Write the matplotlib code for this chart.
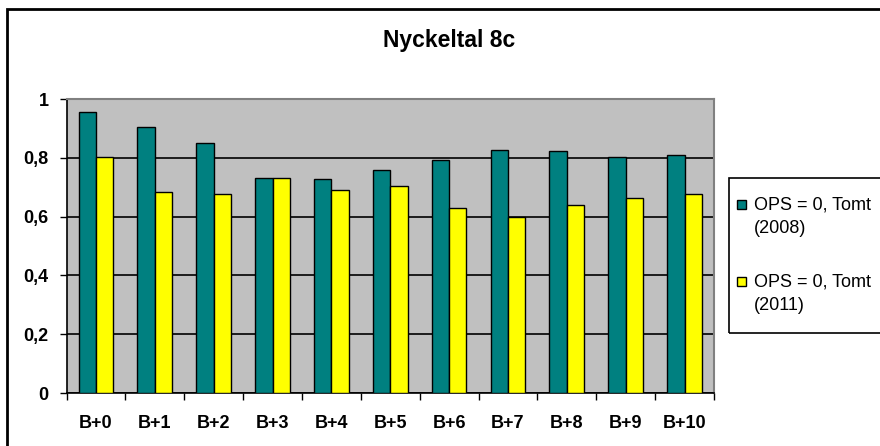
import matplotlib.pyplot as plt
from matplotlib.patches import Rectangle
import numpy as np

plt.rcParams['font.family'] = ['Liberation Sans', 'DejaVu Sans']

categories = ['B+0', 'B+1', 'B+2', 'B+3', 'B+4', 'B+5', 'B+6', 'B+7', 'B+8', 'B+9', 'B+10']
vals_2008 = [0.955, 0.905, 0.851, 0.732, 0.728, 0.758, 0.791, 0.827, 0.822, 0.802, 0.810]
vals_2011 = [0.802, 0.683, 0.678, 0.732, 0.689, 0.703, 0.630, 0.600, 0.639, 0.664, 0.678]
yticks = [0, 0.2, 0.4, 0.6, 0.8, 1]
ytick_labels = ['0', '0,2', '0,4', '0,6', '0,8', '1']
legend_labels = [('OPS = 0, Tomt', '(2008)'), ('OPS = 0, Tomt', '(2011)')]
title = 'Nyckeltal 8c'

W, H = 880, 446
fig = plt.figure(figsize=(8.8, 4.46), dpi=100)

def fx(px):
    return px / W

def fy(py):
    return 1 - py / H

ax = fig.add_axes([fx(66.5), fy(393), fx(714) - fx(66.5), fy(99) - fy(393)])
ax.set_facecolor('#C0C0C0')

x = np.arange(len(categories))
w = 0.295
ax.bar(x - w / 2, vals_2008, w, color='#008080', edgecolor='black', linewidth=1, zorder=3)
ax.bar(x + w / 2, vals_2011, w, color='#FFFF00', edgecolor='black', linewidth=1, zorder=3)

ax.set_xlim(-0.5, len(categories) - 0.5)
ax.set_ylim(0, 1)
ax.set_yticks(yticks)
ax.set_yticklabels(ytick_labels, fontsize=13, fontweight='bold')
ax.yaxis.grid(True, color='black', linewidth=1.2, zorder=1)
ax.set_axisbelow(True)

ax.set_xticks(np.arange(-0.5, len(categories), 1))
ax.set_xticklabels([])
ax.set_xticks(x, minor=True)
ax.set_xticklabels(categories, minor=True, fontsize=13, fontweight='bold')
ax.tick_params(axis='x', which='minor', length=0, pad=16)
ax.tick_params(axis='x', which='major', length=5, width=1, direction='out')
ax.tick_params(axis='y', length=5, width=1, direction='out', pad=8)

for s in ['top', 'right']:
    ax.spines[s].set_color('#808080')
    ax.spines[s].set_linewidth(1.5)
for s in ['left', 'bottom']:
    ax.spines[s].set_color('black')
    ax.spines[s].set_linewidth(1.2)

fig.text(fx(449), fy(40), title, ha='center', va='center', fontsize=16.5, fontweight='bold')

# outer chart border, running past the right and bottom edges
fig.patches.append(Rectangle((fx(7), fy(460)), 1.2, fy(9) - fy(460), transform=fig.transFigure,
                             fill=False, edgecolor='black', linewidth=2))

# legend box, cut by the right edge
fig.patches.append(Rectangle((fx(729), fy(333)), 0.3, fy(178) - fy(333), transform=fig.transFigure,
                             fill=False, edgecolor='black', linewidth=1.2))
colors = ['#008080', '#FFFF00']
sq_y = [204, 281]
for c, yy, lab in zip(colors, sq_y, legend_labels):
    fig.patches.append(Rectangle((fx(737), fy(yy + 4.5)), fx(9), fy(yy - 4.5) - fy(yy + 4.5),
                                 transform=fig.transFigure, facecolor=c,
                                 edgecolor='black', linewidth=1))
    fig.text(fx(754), fy(yy + 1), lab[0], ha='left', va='center', fontsize=13)
    fig.text(fx(754), fy(yy + 24), lab[1], ha='left', va='center', fontsize=13)

fig.savefig('out.png', dpi=100)
